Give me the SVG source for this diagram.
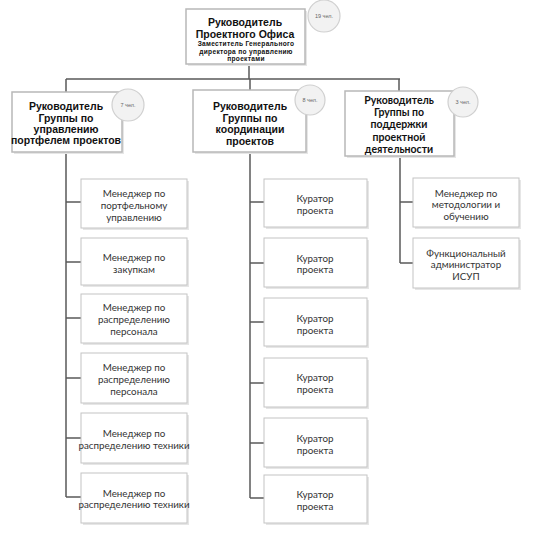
<svg xmlns="http://www.w3.org/2000/svg" width="539" height="550" viewBox="0 0 539 550">
<defs>
<style>
.bg{fill:#fff}
.box{fill:#fff;stroke:#c4c4c4;stroke-width:1}
.sh{fill:#e6e6e6}
.hbox{fill:#fff;stroke:#b8b8b8;stroke-width:1.5}
.cir{fill:#f2f2f2;stroke:#d0d0d0;stroke-width:1.2}
.ct{font-family:"Liberation Sans",Arial,sans-serif;font-size:5.5px;fill:#666;text-anchor:middle}
.h{font-family:"Liberation Sans",Arial,sans-serif;font-weight:bold;font-size:10.5px;fill:#111;text-anchor:middle}
.hs{font-family:"Liberation Sans",Arial,sans-serif;font-weight:bold;font-size:6.6px;letter-spacing:0.3px;fill:#111;text-anchor:middle}
.hc{font-family:Lato,"Liberation Sans",sans-serif;font-weight:bold;font-size:10.5px;fill:#111;text-anchor:middle}
.t{font-family:Lato,"Liberation Sans",sans-serif;font-size:9.8px;fill:#333;text-anchor:middle}
.ln{stroke:#5a5a5a;stroke-width:1.5;fill:none}
</style>
</defs>
<rect class="bg" x="0" y="0" width="539" height="550"/>
<g id="connectors">
<path class="ln" d="M249,64 V79 M66,79 H400 M66,79 V92 M250,79 V90 M399,79 V91"/>
<path class="ln" d="M66,152 V497 M66,202 H81 M66,262 H81 M66,318 H81 M66,378 H81 M66,438 H81 M66,497 H81"/>
<path class="ln" d="M250,152 V498 M250,202 H264 M250,263 H264 M250,322 H264 M250,383 H264 M250,443 H264 M250,498 H264"/>
<path class="ln" d="M400,156 V263 M400,202 H413 M400,263 H413"/>
</g>
<g id="top">
<rect class="sh" x="188" y="11" width="119" height="55"/>
<rect class="hbox" x="186" y="9" width="119" height="55"/>
<circle class="cir" cx="324" cy="16" r="16"/>
<text class="ct" x="324" y="18">19 чел.</text>
<text class="h" x="245" y="26">Руководитель</text>
<text class="h" x="245" y="38">Проектного Офиса</text>
<text class="hs" x="246" y="46.3">Заместитель Генерального</text>
<text class="hs" x="246" y="53.6">директора по управлению</text>
<text class="hs" x="246" y="60.9">проектами</text>
</g>
<g id="g1">
<rect class="sh" x="14" y="94" width="110" height="60"/>
<rect class="hbox" x="12" y="92" width="110" height="60"/>
<circle class="cir" cx="128" cy="105" r="16"/>
<text class="ct" x="128" y="107">7 чел.</text>
<text class="h" x="66" y="110">Руководитель</text>
<text class="h" x="66" y="121.5">Группы по</text>
<text class="h" x="66" y="133">управлению</text>
<text class="h" x="66" y="144">портфелем проектов</text>
</g>
<g id="g2">
<rect class="sh" x="195" y="92" width="113" height="62"/>
<rect class="hbox" x="193" y="90" width="113" height="62"/>
<circle class="cir" cx="310" cy="100" r="15"/>
<text class="ct" x="310" y="102">8 чел.</text>
<text class="h" x="250" y="110">Руководитель</text>
<text class="h" x="250" y="122">Группы по</text>
<text class="h" x="250" y="133">координации</text>
<text class="h" x="250" y="144.5">проектов</text>
</g>
<g id="g3">
<rect class="sh" x="347" y="93" width="109" height="65"/>
<rect class="hbox" x="345" y="91" width="109" height="65"/>
<circle class="cir" cx="463" cy="102" r="15"/>
<text class="ct" x="463" y="104">3 чел.</text>
<text class="hc" x="399" y="104">Руководитель</text>
<text class="hc" x="399" y="116">Группы по</text>
<text class="hc" x="399" y="128">поддержки</text>
<text class="hc" x="399" y="141">проектной</text>
<text class="hc" x="399" y="153">деятельности</text>
</g>
<g id="l1"><rect class="sh" x="83" y="181" width="106" height="49"/><rect class="box" x="81" y="179" width="106" height="49"/>
<text class="t" x="134" y="196.5">Менеджер по</text><text class="t" x="134" y="208.5">портфельному</text><text class="t" x="134" y="220.5">управлению</text></g>
<g id="l2"><rect class="sh" x="83" y="240" width="106" height="47"/><rect class="box" x="81" y="238" width="106" height="47"/>
<text class="t" x="134" y="261">Менеджер по</text><text class="t" x="134" y="272.5">закупкам</text></g>
<g id="l3"><rect class="sh" x="83" y="296" width="106" height="49"/><rect class="box" x="81" y="294" width="106" height="49"/>
<text class="t" x="134" y="310.5">Менеджер по</text><text class="t" x="134" y="322.5">распределению</text><text class="t" x="134" y="334.5">персонала</text></g>
<g id="l4"><rect class="sh" x="83" y="355" width="106" height="50"/><rect class="box" x="81" y="353" width="106" height="50"/>
<text class="t" x="134" y="371">Менеджер по</text><text class="t" x="134" y="382.5">распределению</text><text class="t" x="134" y="394.5">персонала</text></g>
<g id="l5"><rect class="sh" x="83" y="415" width="106" height="50"/><rect class="box" x="81" y="413" width="106" height="50"/>
<text class="t" x="134" y="436.5">Менеджер по</text><text class="t" x="134" y="448.5">распределению техники</text></g>
<g id="l6"><rect class="sh" x="83" y="475" width="106" height="50"/><rect class="box" x="81" y="473" width="106" height="50"/>
<text class="t" x="134" y="496.5">Менеджер по</text><text class="t" x="134" y="507.5">распределению техники</text></g>
<g id="m1"><rect class="sh" x="266" y="181" width="103" height="48"/><rect class="box" x="264" y="179" width="103" height="48"/>
<text class="t" x="315" y="201.5">Куратор</text><text class="t" x="315" y="214">проекта</text></g>
<g id="m2"><rect class="sh" x="266" y="240" width="103" height="49"/><rect class="box" x="264" y="238" width="103" height="49"/>
<text class="t" x="315" y="261.5">Куратор</text><text class="t" x="315" y="272.5">проекта</text></g>
<g id="m3"><rect class="sh" x="266" y="300" width="103" height="48"/><rect class="box" x="264" y="298" width="103" height="48"/>
<text class="t" x="315" y="321.5">Куратор</text><text class="t" x="315" y="333.5">проекта</text></g>
<g id="m4"><rect class="sh" x="266" y="360" width="103" height="49"/><rect class="box" x="264" y="358" width="103" height="49"/>
<text class="t" x="315" y="380.5">Куратор</text><text class="t" x="315" y="393">проекта</text></g>
<g id="m5"><rect class="sh" x="266" y="420" width="103" height="49"/><rect class="box" x="264" y="418" width="103" height="49"/>
<text class="t" x="315" y="441.5">Куратор</text><text class="t" x="315" y="453.5">проекта</text></g>
<g id="m6"><rect class="sh" x="266" y="477" width="103" height="48"/><rect class="box" x="264" y="475" width="103" height="48"/>
<text class="t" x="315" y="497.5">Куратор</text><text class="t" x="315" y="509.5">проекта</text></g>
<g id="r1"><rect class="sh" x="415" y="180" width="106" height="49"/><rect class="box" x="413" y="178" width="106" height="49"/>
<text class="t" x="466" y="196.5">Менеджер по</text><text class="t" x="466" y="207.5">методологии и</text><text class="t" x="466" y="219.5">обучению</text></g>
<g id="r2"><rect class="sh" x="415" y="240" width="106" height="50"/><rect class="box" x="413" y="238" width="106" height="50"/>
<text class="t" x="466" y="256.5">Функциональный</text><text class="t" x="466" y="267.5">администратор</text><text class="t" x="466" y="279.5">ИСУП</text></g>
</svg>
